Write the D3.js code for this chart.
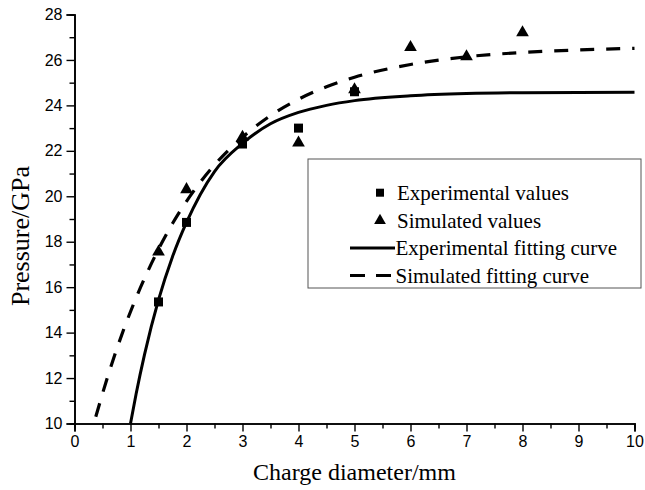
<!DOCTYPE html>
<html><head><meta charset="utf-8">
<script src="https://cdn.jsdelivr.net/npm/d3@7"></script>
<style>html,body{margin:0;padding:0;background:#fff;}svg{display:block;}</style>
</head><body>
<script>
// ---- data ----
const expX = [1.5, 2, 3, 4, 5];
const expY = [15.35, 18.85, 22.3, 23.0, 24.6];
const simX = [1.5, 2, 3, 4, 5, 6, 7, 8];
const simY = [17.55, 20.3, 22.6, 22.35, 24.7, 26.55, 26.15, 27.2];
const expFitX = [1, 1.1, 1.25, 1.5, 1.75, 2, 2.5, 3, 3.5, 4, 4.5, 5, 6, 7, 8, 10];
const expFitY = [10, 11.3, 13.03, 15.44, 17.34, 18.85, 21.09, 22.33, 23.19, 23.69, 24.0, 24.21, 24.42, 24.52, 24.56, 24.58];
const simFitX = [0.38, 0.6, 0.87, 1.1, 1.29, 1.5, 1.75, 2, 2.5, 3, 3.5, 4, 4.5, 5, 6, 7, 8, 9, 10];
const simFitY = [10.3, 12.12, 14.08, 15.53, 16.6, 17.67, 18.8, 19.78, 21.38, 22.6, 23.55, 24.27, 24.82, 25.24, 25.8, 26.14, 26.33, 26.44, 26.51];
const xTicks = [0, 1, 2, 3, 4, 5, 6, 7, 8, 9, 10];
const yTicks = [10, 12, 14, 16, 18, 20, 22, 24, 26, 28];
const legendLabels = ["Experimental values", "Simulated values", "Experimental fitting curve", "Simulated fitting curve"];
const xTitle = "Charge diameter/mm";
const yTitle = "Pressure/GPa";

const W = 645, H = 490;
const svg = d3.select("body").append("svg").attr("width", W).attr("height", H);
svg.append("rect").attr("width", W).attr("height", H).attr("fill", "#fff");

const x = d3.scaleLinear().domain([0, 10]).range([74.5, 634.5]);
const y = d3.scaleLinear().domain([10, 28]).range([423.5, 14.5]);

// minor ticks
const xMinor = d3.range(0.5, 10, 1);
const yMinor = d3.range(11, 28, 2);

const xAxis = d3.axisBottom(x).tickValues(xTicks).tickSize(8).tickPadding(4).tickFormat(d3.format("d"));
const yAxis = d3.axisLeft(y).tickValues(yTicks).tickSize(8).tickPadding(4).tickFormat(d3.format("d"));

const gx = svg.append("g").attr("transform", `translate(0,${y(10)})`).call(xAxis);
const gy = svg.append("g").attr("transform", `translate(${x(0)},0)`).call(yAxis);
svg.append("g").attr("transform", `translate(0,${y(10)})`)
  .call(d3.axisBottom(x).tickValues(xMinor).tickSize(5).tickFormat(""));
svg.append("g").attr("transform", `translate(${x(0)},0)`)
  .call(d3.axisLeft(y).tickValues(yMinor).tickSize(5).tickFormat(""));

svg.selectAll(".domain").attr("stroke", "#000").attr("stroke-width", 1.6);
svg.selectAll(".tick line").attr("stroke", "#000").attr("stroke-width", 1.4);
svg.selectAll(".tick text").attr("font-family", "'Liberation Sans', Arial, sans-serif")
  .attr("font-size", 16).attr("fill", "#000");

// titles
svg.append("text").attr("x", x(5)).attr("y", 480).attr("text-anchor", "middle")
  .attr("font-family", "'Liberation Serif', 'Times New Roman', serif").attr("font-size", 24).text(xTitle);
svg.append("text").attr("transform", `translate(29,236) rotate(-90)`).attr("text-anchor", "middle")
  .attr("font-family", "'Liberation Serif', 'Times New Roman', serif").attr("font-size", 26).text(yTitle);

// curves
const line = d3.line().x(d => x(d[0])).y(d => y(d[1])).curve(d3.curveMonotoneX);
svg.append("path").datum(expFitX.map((v, i) => [v, expFitY[i]]))
  .attr("d", line).attr("fill", "none").attr("stroke", "#000").attr("stroke-width", 3);
svg.append("path").datum(simFitX.map((v, i) => [v, simFitY[i]]))
  .attr("d", line).attr("fill", "none").attr("stroke", "#000").attr("stroke-width", 3.2)
  .attr("stroke-dasharray", "14,12");

// markers
const sq = 9;
svg.selectAll(".sq").data(expX.map((v, i) => [v, expY[i]])).enter().append("rect")
  .attr("x", d => x(d[0]) - sq / 2).attr("y", d => y(d[1]) - sq / 2)
  .attr("width", sq).attr("height", sq).attr("fill", "#000");
const tri = d3.symbol().type(d3.symbolTriangle).size(70);
svg.selectAll(".tri").data(simX.map((v, i) => [v, simY[i]])).enter().append("path")
  .attr("d", tri).attr("transform", d => `translate(${x(d[0])},${y(d[1])})`).attr("fill", "#000");

// legend
const lg = svg.append("g");
lg.append("rect").attr("x", 308).attr("y", 159).attr("width", 333).attr("height", 129)
  .attr("fill", "#fff").attr("stroke", "#555").attr("stroke-width", 1);
const rowsY = [192.7, 220.5, 248, 275.5];
lg.append("rect").attr("x", 380 - 4).attr("y", rowsY[0] - 4).attr("width", 8).attr("height", 8).attr("fill", "#000");
lg.append("path").attr("d", d3.symbol().type(d3.symbolTriangle).size(60)).attr("transform", `translate(380,${rowsY[1]})`).attr("fill", "#000");
lg.append("line").attr("x1", 350).attr("x2", 395).attr("y1", rowsY[2]).attr("y2", rowsY[2]).attr("stroke", "#000").attr("stroke-width", 3);
lg.append("line").attr("x1", 350).attr("x2", 395).attr("y1", rowsY[3]).attr("y2", rowsY[3]).attr("stroke", "#000").attr("stroke-width", 3.2).attr("stroke-dasharray", "15,11");
legendLabels.forEach((t, i) => {
  lg.append("text").attr("x", i < 2 ? 397 : 395.5).attr("y", rowsY[i] + 7)
    .attr("font-family", "'Liberation Serif', 'Times New Roman', serif").attr("font-size", 21).text(t);
});
</script>
</body></html>
